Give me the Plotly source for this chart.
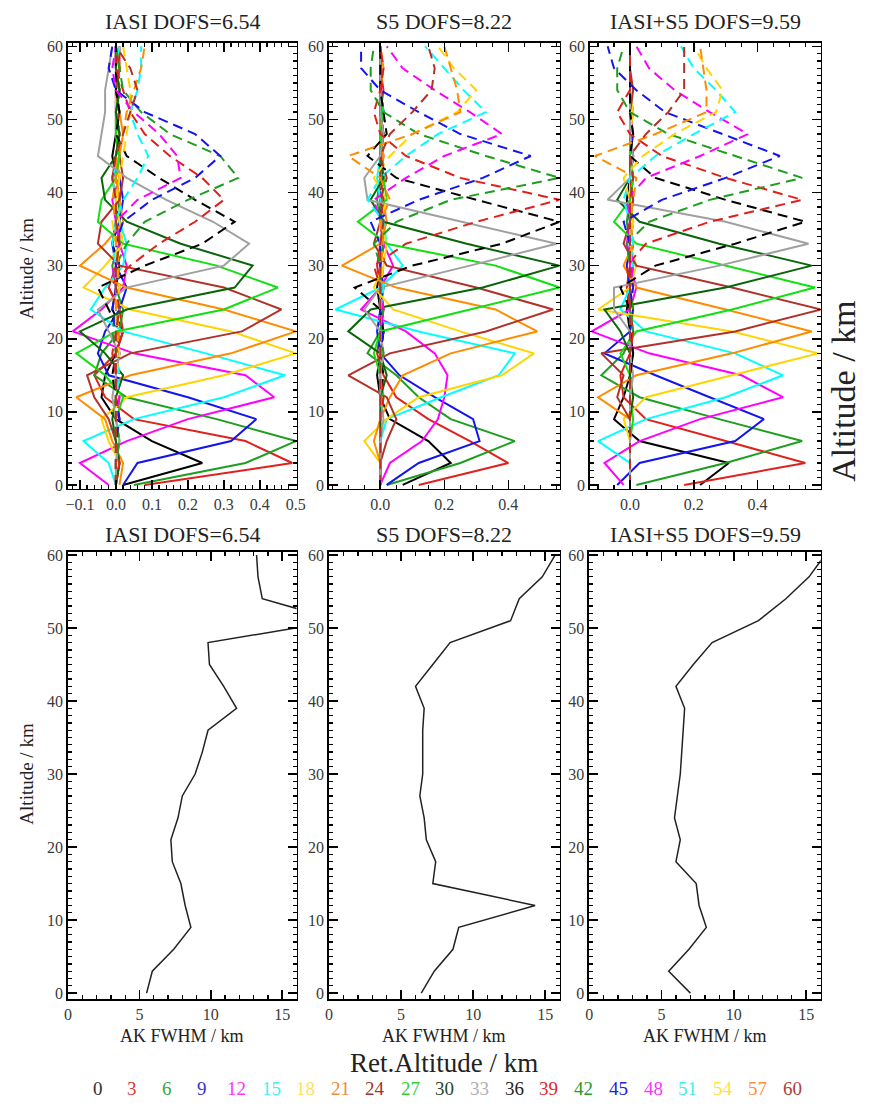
import plotly.graph_objects as go

# ---------------- data ----------------
altitude_km = [0, 3, 6, 9, 12, 15, 18, 21, 24, 27, 30, 33, 36, 39, 42, 45, 48, 51, 54, 57, 60]
ret_altitudes = [0, 3, 6, 9, 12, 15, 18, 21, 24, 27, 30, 33, 36, 39, 42, 45, 48, 51, 54, 57, 60]

# averaging kernels (one row per retrieval altitude, values at altitude_km)
ak_iasi = [
    [0.02, 0.24, 0.10, 0.00, -0.04, -0.03, 0.00, 0.02, -0.01, 0.00, 0.01, -0.01, 0.00, 0.01, 0.00, -0.01, 0.00, 0.00, 0.01, 0.00, 0.00],
    [0.08, 0.49, 0.36, 0.05, -0.03, -0.06, 0.00, 0.02, 0.01, -0.02, 0.00, 0.01, 0.01, 0.00, -0.01, 0.00, 0.01, 0.00, 0.00, 0.01, 0.01],
    [0.05, 0.36, 0.50, 0.28, 0.03, -0.06, -0.04, 0.01, 0.02, 0.00, -0.01, 0.01, 0.00, 0.01, 0.00, 0.00, 0.01, 0.00, 0.01, 0.00, 0.00],
    [0.02, 0.06, 0.32, 0.39, 0.20, -0.02, -0.05, -0.03, 0.01, 0.03, 0.00, -0.01, 0.01, 0.02, 0.01, 0.00, 0.01, 0.00, 0.00, 0.01, 0.00],
    [-0.02, -0.10, 0.03, 0.20, 0.44, 0.36, 0.05, -0.12, -0.04, 0.02, 0.03, 0.01, 0.00, -0.01, 0.01, 0.00, 0.01, 0.00, 0.01, 0.00, 0.00],
    [0.00, -0.02, -0.09, 0.05, 0.30, 0.47, 0.25, 0.02, -0.07, -0.03, 0.02, 0.03, 0.01, 0.00, -0.01, 0.01, 0.00, 0.01, 0.00, 0.00, 0.01],
    [0.00, 0.01, -0.02, -0.04, 0.03, 0.30, 0.50, 0.32, 0.04, -0.09, -0.03, 0.02, 0.01, 0.00, 0.01, 0.00, 0.01, 0.00, 0.00, 0.01, 0.00],
    [0.01, 0.02, -0.01, -0.03, -0.11, 0.04, 0.32, 0.50, 0.30, 0.03, -0.10, -0.03, 0.02, 0.01, 0.00, 0.01, 0.02, 0.01, 0.00, 0.01, 0.00],
    [0.00, 0.01, 0.00, -0.02, -0.06, -0.08, 0.04, 0.35, 0.46, 0.30, 0.01, -0.05, -0.04, 0.01, 0.02, 0.01, 0.00, 0.01, 0.00, 0.01, 0.00],
    [0.00, 0.00, 0.01, 0.00, 0.02, -0.03, -0.11, 0.00, 0.30, 0.45, 0.28, 0.02, -0.05, -0.04, 0.00, 0.01, 0.00, 0.00, 0.01, 0.00, 0.00],
    [0.00, 0.01, 0.00, -0.01, 0.00, 0.02, -0.03, -0.10, 0.03, 0.33, 0.38, 0.18, 0.03, -0.03, -0.04, 0.00, 0.01, 0.00, 0.01, 0.00, 0.00],
    [0.00, 0.00, 0.01, 0.00, -0.01, 0.00, 0.01, -0.02, -0.05, 0.03, 0.30, 0.37, 0.27, 0.14, 0.03, -0.05, -0.04, -0.03, -0.03, -0.02, -0.01],
    [0.00, 0.00, 0.00, 0.01, 0.00, -0.01, 0.00, 0.01, -0.02, -0.05, 0.08, 0.24, 0.33, 0.22, 0.12, 0.03, 0.00, 0.01, 0.00, 0.00, 0.00],
    [0.00, 0.01, 0.00, 0.00, 0.01, 0.00, -0.01, 0.00, 0.01, -0.02, 0.04, 0.12, 0.22, 0.30, 0.24, 0.15, 0.08, 0.04, 0.02, 0.00, 0.00],
    [0.00, 0.00, 0.01, 0.00, 0.00, 0.01, 0.00, -0.01, 0.00, 0.01, 0.00, 0.03, 0.08, 0.20, 0.34, 0.29, 0.15, 0.07, 0.02, 0.01, 0.00],
    [0.00, 0.00, 0.00, 0.01, 0.00, 0.00, 0.01, 0.00, -0.01, 0.00, 0.01, 0.00, 0.02, 0.10, 0.22, 0.29, 0.22, 0.08, 0.00, -0.02, -0.01],
    [0.00, 0.00, 0.00, 0.00, 0.01, 0.00, 0.00, 0.01, 0.00, 0.00, -0.01, 0.01, 0.00, 0.06, 0.18, 0.17, 0.12, 0.05, 0.00, -0.01, 0.00],
    [0.00, 0.00, 0.00, 0.00, 0.00, 0.01, 0.00, 0.00, 0.01, 0.00, 0.00, -0.01, 0.00, 0.02, 0.06, 0.09, 0.06, 0.04, 0.06, 0.07, 0.07],
    [0.00, 0.00, 0.00, 0.00, 0.00, 0.00, 0.01, 0.00, 0.00, 0.01, 0.00, 0.00, -0.01, 0.00, 0.01, 0.02, 0.03, 0.04, 0.04, 0.03, 0.02],
    [0.00, 0.00, 0.00, 0.00, 0.00, 0.00, 0.00, 0.01, 0.00, 0.00, 0.01, 0.00, 0.00, -0.01, 0.00, 0.00, 0.02, 0.03, 0.05, 0.07, 0.08],
    [0.00, 0.00, 0.00, 0.00, 0.00, 0.00, 0.00, 0.00, 0.01, 0.00, 0.00, 0.01, 0.00, 0.00, -0.01, 0.00, 0.02, 0.04, 0.06, 0.04, 0.00],
]

ak_s5 = [
    [0.07, 0.22, 0.15, 0.03, 0.00, -0.01, 0.00, 0.01, 0.00, -0.01, 0.00, 0.01, 0.00, 0.00, 0.01, 0.00, 0.00, 0.01, 0.00, 0.00, 0.00],
    [0.12, 0.40, 0.28, 0.15, 0.05, 0.01, -0.01, 0.00, 0.01, 0.00, -0.01, 0.00, 0.01, 0.00, 0.00, 0.01, 0.00, 0.00, 0.01, 0.00, 0.00],
    [0.02, 0.25, 0.42, 0.22, 0.12, 0.05, -0.04, 0.00, 0.01, 0.00, 0.00, 0.01, 0.00, -0.01, 0.00, 0.00, 0.01, 0.00, 0.00, 0.00, 0.00],
    [0.02, 0.12, 0.31, 0.29, 0.17, 0.06, 0.00, -0.01, 0.00, 0.01, 0.00, 0.00, 0.01, 0.00, 0.00, 0.00, 0.00, 0.01, 0.00, 0.00, 0.00],
    [0.00, 0.03, 0.13, 0.18, 0.20, 0.21, 0.17, 0.08, -0.06, 0.00, 0.04, 0.01, 0.00, 0.01, 0.00, 0.00, 0.01, 0.00, 0.00, 0.00, 0.00],
    [0.00, 0.00, 0.00, 0.02, 0.19, 0.37, 0.42, 0.12, -0.14, 0.00, 0.07, 0.02, 0.01, 0.00, -0.01, 0.00, 0.00, 0.01, 0.00, 0.00, 0.00],
    [0.00, 0.00, -0.05, 0.02, 0.12, 0.38, 0.48, 0.25, 0.04, -0.02, 0.01, 0.02, 0.00, 0.01, 0.00, 0.00, 0.01, 0.00, 0.00, 0.00, 0.00],
    [0.00, 0.00, -0.02, 0.00, 0.03, 0.07, 0.22, 0.49, 0.36, 0.05, -0.12, 0.00, 0.02, 0.01, 0.00, 0.01, 0.00, 0.00, 0.00, 0.01, 0.00],
    [0.00, 0.00, 0.02, 0.05, 0.02, -0.10, 0.03, 0.33, 0.54, 0.30, 0.02, -0.02, 0.00, 0.01, 0.00, 0.00, 0.01, 0.00, 0.00, 0.00, 0.00],
    [0.00, 0.00, 0.00, 0.00, 0.01, 0.00, -0.02, 0.00, 0.28, 0.56, 0.36, 0.02, -0.07, 0.02, 0.01, 0.00, 0.00, 0.01, 0.00, 0.00, 0.00],
    [0.00, 0.00, 0.00, 0.00, 0.00, 0.02, 0.00, -0.10, -0.03, 0.32, 0.56, 0.27, 0.01, -0.03, 0.01, 0.00, 0.01, 0.00, 0.00, 0.00, 0.00],
    [0.00, 0.00, 0.00, 0.01, 0.00, 0.00, 0.01, 0.00, -0.05, 0.00, 0.28, 0.55, 0.25, -0.04, -0.05, 0.00, 0.01, 0.00, 0.00, 0.00, 0.00],
    [0.00, 0.00, 0.00, 0.00, 0.00, 0.01, 0.00, 0.01, 0.00, -0.08, 0.10, 0.38, 0.56, 0.30, 0.05, -0.04, 0.02, 0.01, 0.00, 0.00, 0.00],
    [0.00, 0.00, 0.00, 0.00, 0.01, 0.00, 0.00, 0.00, 0.01, 0.00, -0.02, 0.08, 0.30, 0.56, 0.25, 0.08, 0.00, -0.02, 0.00, 0.01, 0.00],
    [0.00, 0.00, 0.00, 0.00, 0.00, 0.00, 0.01, 0.00, 0.00, 0.01, 0.00, -0.02, 0.05, 0.22, 0.56, 0.33, 0.12, 0.01, -0.03, -0.03, -0.02],
    [0.00, 0.00, 0.00, 0.00, 0.00, 0.00, 0.00, 0.01, 0.00, 0.00, 0.01, 0.00, -0.03, 0.12, 0.32, 0.47, 0.25, 0.12, 0.00, -0.06, -0.06],
    [0.00, 0.00, 0.00, 0.00, 0.00, 0.00, 0.00, 0.00, 0.01, 0.00, 0.00, 0.01, 0.00, -0.02, 0.08, 0.20, 0.38, 0.28, 0.17, 0.07, 0.02],
    [0.00, 0.00, 0.00, 0.00, 0.00, 0.00, 0.00, 0.00, 0.00, 0.01, 0.00, 0.00, 0.01, -0.04, 0.00, 0.08, 0.18, 0.33, 0.26, 0.20, 0.14],
    [0.00, 0.00, 0.00, 0.00, 0.00, 0.00, 0.00, 0.00, 0.00, 0.00, 0.01, 0.00, 0.00, 0.02, -0.02, 0.03, 0.10, 0.24, 0.30, 0.23, 0.18],
    [0.00, 0.00, 0.00, 0.00, 0.00, 0.00, 0.00, 0.00, 0.00, 0.00, 0.00, 0.01, 0.00, 0.03, 0.00, -0.10, 0.10, 0.25, 0.24, 0.22, 0.20],
    [0.00, 0.00, 0.00, 0.00, 0.00, 0.00, 0.00, 0.00, 0.00, 0.00, 0.00, 0.00, 0.01, 0.00, 0.02, 0.00, 0.03, 0.10, 0.16, 0.17, 0.15],
]

ak_iasi_s5 = [
    [0.22, 0.31, 0.03, -0.05, -0.02, 0.00, 0.01, 0.00, -0.01, 0.00, 0.01, 0.00, 0.00, -0.01, 0.00, 0.01, 0.00, 0.00, 0.00, 0.00, 0.00],
    [0.17, 0.55, 0.30, 0.05, -0.02, -0.03, 0.00, 0.01, 0.00, -0.01, 0.00, 0.01, 0.00, 0.00, 0.01, 0.00, 0.00, 0.00, 0.00, 0.00, 0.00],
    [0.02, 0.30, 0.54, 0.28, 0.03, -0.09, -0.02, 0.01, 0.00, 0.00, 0.01, 0.00, -0.01, 0.00, 0.00, 0.01, 0.00, 0.00, 0.00, 0.00, 0.00],
    [-0.04, 0.03, 0.33, 0.42, 0.25, 0.08, -0.08, 0.00, 0.01, 0.00, -0.01, 0.00, 0.01, 0.00, 0.00, 0.00, 0.01, 0.00, 0.00, 0.00, 0.00],
    [-0.02, -0.08, 0.03, 0.22, 0.48, 0.35, 0.06, -0.12, 0.00, 0.02, 0.00, -0.01, 0.00, 0.01, 0.00, 0.00, 0.00, 0.01, 0.00, 0.00, 0.00],
    [0.00, 0.00, -0.10, 0.05, 0.30, 0.48, 0.33, 0.05, -0.03, 0.00, 0.01, 0.00, 0.00, 0.00, 0.01, 0.00, 0.00, 0.00, 0.00, 0.00, 0.00],
    [0.00, 0.00, 0.00, -0.02, 0.05, 0.32, 0.59, 0.32, -0.10, 0.00, 0.02, 0.00, 0.01, 0.00, 0.00, 0.00, 0.00, 0.01, 0.00, 0.00, 0.00],
    [0.00, 0.00, 0.00, 0.00, -0.10, 0.02, 0.32, 0.57, 0.30, 0.02, -0.02, 0.01, 0.00, 0.00, 0.01, 0.00, 0.00, 0.00, 0.00, 0.00, 0.00],
    [0.00, 0.00, 0.00, 0.00, -0.04, -0.02, -0.09, 0.33, 0.60, 0.32, 0.02, -0.02, 0.00, 0.01, 0.00, 0.00, 0.00, 0.00, 0.01, 0.00, 0.00],
    [0.00, 0.00, 0.00, 0.01, 0.00, 0.00, -0.03, 0.02, 0.32, 0.58, 0.30, 0.02, -0.05, 0.00, 0.01, 0.00, 0.00, 0.00, 0.00, 0.00, 0.00],
    [0.00, 0.00, 0.00, 0.00, 0.01, 0.00, 0.00, -0.03, -0.08, 0.30, 0.57, 0.28, 0.03, -0.04, 0.00, 0.01, 0.00, 0.00, 0.00, 0.00, 0.00],
    [0.00, 0.00, 0.00, 0.00, 0.00, 0.01, 0.00, 0.00, -0.05, -0.05, 0.28, 0.56, 0.30, -0.07, 0.00, 0.01, 0.00, 0.00, 0.00, 0.00, 0.00],
    [0.00, 0.00, 0.00, 0.00, 0.00, 0.00, 0.01, 0.00, 0.00, -0.03, 0.08, 0.33, 0.55, 0.30, 0.08, 0.00, 0.01, 0.00, 0.00, 0.00, 0.00],
    [0.00, 0.00, 0.00, 0.00, 0.00, 0.00, 0.00, 0.01, 0.00, 0.00, -0.01, 0.05, 0.25, 0.54, 0.30, 0.10, 0.00, -0.04, 0.00, 0.00, 0.00],
    [0.00, 0.00, 0.00, 0.00, 0.00, 0.00, 0.00, 0.00, 0.01, 0.00, 0.00, -0.01, 0.06, 0.25, 0.54, 0.33, 0.12, 0.00, -0.04, -0.04, -0.02],
    [0.00, 0.00, 0.00, 0.00, 0.00, 0.00, 0.00, 0.00, 0.00, 0.01, 0.00, 0.00, -0.02, 0.10, 0.30, 0.47, 0.29, 0.11, 0.02, -0.05, -0.07],
    [0.00, 0.00, 0.00, 0.00, 0.00, 0.00, 0.00, 0.00, 0.00, 0.00, 0.01, 0.00, 0.00, -0.01, 0.05, 0.22, 0.37, 0.25, 0.14, 0.06, 0.02],
    [0.00, 0.00, 0.00, 0.00, 0.00, 0.00, 0.00, 0.00, 0.00, 0.00, 0.00, 0.01, 0.00, -0.02, 0.00, 0.08, 0.20, 0.33, 0.27, 0.20, 0.16],
    [0.00, 0.00, 0.00, 0.00, 0.00, 0.00, 0.00, 0.00, 0.00, 0.00, 0.00, 0.00, 0.01, 0.00, -0.02, 0.04, 0.14, 0.27, 0.29, 0.24, 0.20],
    [0.00, 0.00, 0.00, 0.00, 0.00, 0.00, 0.00, 0.00, 0.00, 0.00, 0.00, 0.00, 0.00, 0.01, 0.02, -0.11, 0.08, 0.24, 0.24, 0.23, 0.22],
    [0.00, 0.00, 0.00, 0.00, 0.00, 0.00, 0.00, 0.00, 0.00, 0.00, 0.00, 0.00, 0.00, 0.00, 0.01, 0.00, 0.05, 0.12, 0.17, 0.17, 0.17],
]

# AK full width at half maximum (km) vs altitude
fwhm_iasi = [5.5, 5.9, 7.4, 8.6, 8.2, 7.9, 7.3, 7.2, 7.7, 8.0, 8.9, 9.4, 9.8, 11.8, 10.9, 9.9, 9.8, 19.0, 13.6, 13.3, 13.2]
fwhm_s5 = [6.4, 7.3, 8.6, 9.0, 14.3, 7.2, 7.4, 6.75, 6.6, 6.3, 6.5, 6.5, 6.5, 6.6, 6.0, 7.2, 8.4, 12.6, 13.2, 14.8, 15.7]
fwhm_iasi_s5 = [7.0, 5.5, 6.9, 8.1, 7.6, 7.4, 6.0, 6.3, 5.9, 6.1, 6.3, 6.4, 6.5, 6.6, 6.0, 7.2, 8.5, 11.7, 13.6, 15.2, 16.3]

panel_titles = ["IASI DOFS=6.54", "S5 DOFS=8.22", "IASI+S5 DOFS=9.59"]

# ---------------- styles ----------------
kernel_colors = ["#000000", "#e0201c", "#1e9e1e", "#1414f0", "#ff00ff", "#00ffff", "#ffd400",
                 "#ff8c00", "#b0322a", "#10e010", "#0a640a", "#a0a0a0",
                 "#000000", "#e0201c", "#1e9e1e", "#1414f0", "#ff00ff", "#00ffff", "#ffd400",
                 "#ff8c00", "#b0322a"]
legend_colors = ["#333333", "#d83a30", "#35a835", "#3535d0", "#ff30ff", "#40f0f0", "#ffe060",
                 "#f08a38", "#a0322a", "#30d030", "#244a24", "#b0b0b0",
                 "#222222", "#e02828", "#2a9a2a", "#2222e0", "#ff30ff", "#40f0f0", "#ffe040",
                 "#ff9040", "#b04040"]

W, H = 871, 1108
FONT = "Liberation Serif"


def px_x(p):
    return p / W


def px_y(p):
    return 1 - p / H


top_dom_y = [px_y(488), px_y(38)]
bot_dom_y = [px_y(1003), px_y(552)]
col_dom_x = [[px_x(65), px_x(297)], [px_x(330), px_x(564)], [px_x(595), px_x(829)]]

fig = go.Figure()

ak_sets = [ak_iasi, ak_s5, ak_iasi_s5]
for p, ak in enumerate(ak_sets):
    xa = "x" if p == 0 else f"x{p+1}"
    ya = "y" if p == 0 else f"y{p+1}"
    for k, r in enumerate(ret_altitudes):
        dashed = r >= 36
        fig.add_trace(go.Scatter(
            x=ak[k], y=altitude_km, mode="lines", xaxis=xa, yaxis=ya,
            line=dict(color=kernel_colors[k], width=2,
                      dash="10px,6px" if dashed else "solid"),
            showlegend=False, hoverinfo="skip"))

for p, fw in enumerate([fwhm_iasi, fwhm_s5, fwhm_iasi_s5]):
    fig.add_trace(go.Scatter(
        x=fw, y=altitude_km, mode="lines", xaxis=f"x{p+4}", yaxis=f"y{p+4}",
        line=dict(color="#222222", width=1.5), showlegend=False, hoverinfo="skip"))

tickfont = dict(family=FONT, size=16, color="#3a3a3a")


def minor_ticks(dt):
    return dict(tickmode="linear", tick0=0, dtick=dt, ticks="inside", ticklen=4,
                tickwidth=1.3, tickcolor="black", showgrid=False)


def xaxis(domain, rng, dtick, minor, anchor, fmt):
    return dict(domain=domain, range=rng, dtick=dtick, tick0=0, tickformat=fmt,
                ticks="inside", ticklen=9, tickwidth=1.6, tickcolor="black",
                mirror="allticks", showline=True, linecolor="black", linewidth=1.8,
                showgrid=False, zeroline=False, anchor=anchor, tickfont=tickfont,
                minor=minor_ticks(minor))


def yaxis(domain, anchor, rng):
    return dict(domain=domain, range=rng, dtick=10, tick0=0,
                ticks="inside", ticklen=9, tickwidth=1.6, tickcolor="black",
                mirror="allticks", showline=True, linecolor="black", linewidth=1.8,
                showgrid=False, zeroline=False, anchor=anchor, tickfont=tickfont,
                minor=minor_ticks(1))


layout = dict(width=W, height=H, margin=dict(l=0, r=0, t=0, b=0),
              paper_bgcolor="white", plot_bgcolor="white", showlegend=False,
              hovermode=False)

top_ranges = [[-0.133, 0.502], [-0.16, 0.56], [-0.125, 0.598]]
top_dticks = [0.1, 0.2, 0.2]
top_minor = [0.02, 0.05, 0.05]
for p in range(3):
    sx = "" if p == 0 else str(p + 1)
    layout["xaxis" + sx] = xaxis(col_dom_x[p], top_ranges[p], top_dticks[p], top_minor[p],
                                 "y" + sx, ".1f")
    layout["yaxis" + sx] = yaxis(top_dom_y, "x" + sx, [-0.5, 60.5])
bot_dom_x = [[px_x(65), px_x(297)], [px_x(330), px_x(564)], [px_x(594), px_x(829)]]
for p in range(3):
    sx = str(p + 4)
    layout["xaxis" + sx] = xaxis(bot_dom_x[p], [0, 16], 5, 1, "y" + sx, "d")
    layout["yaxis" + sx] = yaxis(bot_dom_y, "x" + sx, [-0.8, 60.4])

fig.update_layout(**layout)

ann = []
centers = [181, 447, 712]
for p in range(3):
    for yy in (17, 534):
        ann.append(dict(text=panel_titles[p], x=px_x(centers[p]), y=px_y(yy),
                        xref="paper", yref="paper", showarrow=False,
                        font=dict(family=FONT, size=22, color="#222222"),
                        xanchor="center", yanchor="middle"))
    ann.append(dict(text="AK FWHM / km", x=px_x(centers[p]), y=px_y(1040),
                    xref="paper", yref="paper", showarrow=False,
                    font=dict(family=FONT, size=18, color="#222222"),
                    xanchor="center", yanchor="middle"))
for yy in (266, 776):
    ann.append(dict(text="Altitude / km", x=px_x(23), y=px_y(yy), xref="paper", yref="paper",
                    showarrow=False, textangle=-90,
                    font=dict(family=FONT, size=19, color="#222222"),
                    xanchor="center", yanchor="middle"))
ann.append(dict(text="Altitude / km", x=px_x(852), y=px_y(390), xref="paper", yref="paper",
                showarrow=False, textangle=-90,
                font=dict(family=FONT, size=34, color="#222222"),
                xanchor="center", yanchor="middle"))
ann.append(dict(text="Ret.Altitude / km", x=px_x(447), y=px_y(1068), xref="paper", yref="paper",
                showarrow=False, font=dict(family=FONT, size=27, color="#222222"),
                xanchor="center", yanchor="middle"))
for k, r in enumerate(ret_altitudes):
    ann.append(dict(text=str(r), x=px_x(95 + 35.25 * k), y=px_y(1093), xref="paper", yref="paper",
                    showarrow=False, font=dict(family=FONT, size=19, color=legend_colors[k]),
                    xanchor="center", yanchor="middle"))
fig.update_layout(annotations=ann)

fig.write_html("out.html",
               config={"displayModeBar": False, "staticPlot": True},
               post_script="document.body.style.margin='0';document.body.style.padding='0';"
                           "document.documentElement.style.overflow='hidden';")
